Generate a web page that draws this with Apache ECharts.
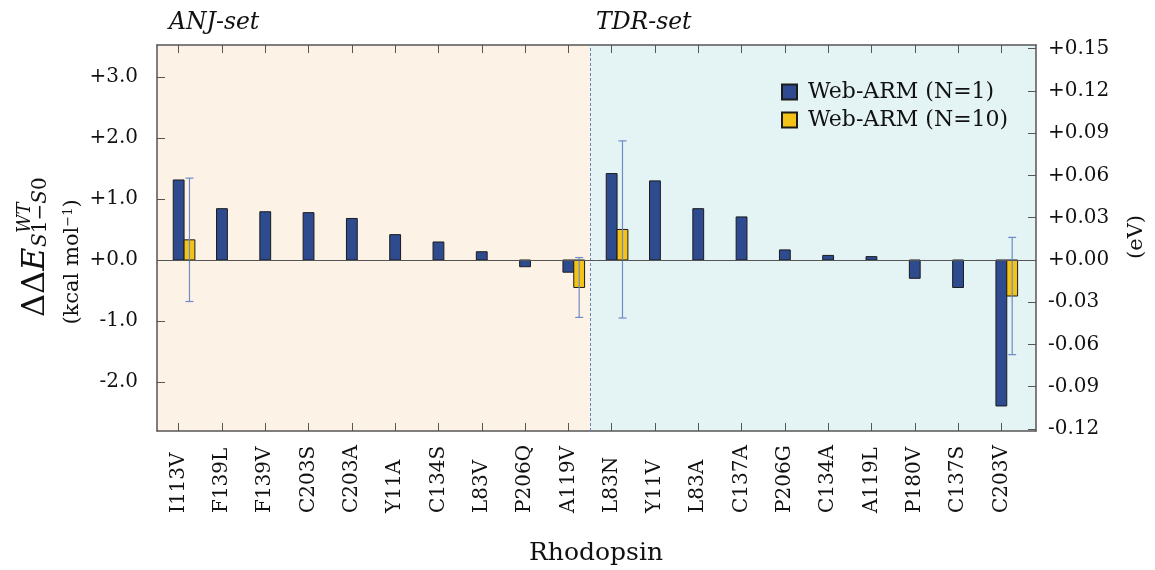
<!DOCTYPE html>
<html>
<head>
<meta charset="utf-8">
<script src="https://cdn.jsdelivr.net/npm/echarts@6/dist/echarts.min.js"></script>
<style>
  html, body { margin: 0; padding: 0; background: #ffffff; }
  #chart { width: 1155px; height: 570px; }
</style>
</head>
<body>
<div id="chart"></div>
<script>
// Rhodopsin mutants: S1-S0 excitation energy shift relative to wild type
const categories = ['I113V', 'F139L', 'F139V', 'C203S', 'C203A', 'Y11A', 'C134S', 'L83V', 'P206Q', 'A119V',
                    'L83N', 'Y11V', 'L83A', 'C137A', 'P206G', 'C134A', 'A119L', 'P180V', 'C137S', 'C203V'];
// Web-ARM (N=1), kcal/mol
const n1Values = [1.31, 0.84, 0.79, 0.775, 0.68, 0.415, 0.295, 0.135, -0.11, -0.20,
                  1.415, 1.295, 0.84, 0.705, 0.165, 0.075, 0.055, -0.30, -0.45, -2.39];
// Web-ARM (N=10), kcal/mol, with standard deviation
const n10Values = [0.33, null, null, null, null, null, null, null, null, -0.45,
                   0.50, null, null, null, null, null, null, null, null, -0.59];
const n10Errors = [1.01, null, null, null, null, null, null, null, null, 0.49,
                   1.45, null, null, null, null, null, null, null, null, 0.96];
const setNames = ['ANJ-set', 'TDR-set'];
const setSizes = [10, 10];
const kcalTicks = [-2, -1, 0, 1, 2, 3];
const evTicks = [-0.12, -0.09, -0.06, -0.03, 0, 0.03, 0.06, 0.09, 0.12, 0.15];
const KCAL_PER_EV = 23.0605;
const Y_MIN = -2.8, Y_MAX = 3.52;
const X_MIN = -0.5, X_MAX = 19.8;

const FONT = 'DejaVu Serif';
const BLUE = '#2f4b8f';
const YELLOW = '#f3c318';
const AXIS = '#555555';
const BAR_W = 0.25;

const chart = echarts.init(document.getElementById('chart'), null, { renderer: 'canvas' });

const tickIdx = categories.map((_, i) => i);
// set boundaries in category units
const setBounds = [];
let acc = 0;
setSizes.forEach((s, k) => {
  const from = k === 0 ? X_MIN : acc - 0.5;
  acc += s;
  const to = k === setSizes.length - 1 ? X_MAX : acc - 0.5;
  setBounds.push([from, to, k]);
});
const bandColors = ['#fdf2e6', '#e4f4f4'];

function signed(v, d) {
  const s = Math.abs(v) < 1e-9 ? (0).toFixed(d) : Math.abs(v).toFixed(d);
  return (v < -1e-9 ? '-' : '+') + s;
}

function barRenderer(offset, fill) {
  return function (params, api) {
    const x = api.value(0), v = api.value(1);
    const a = api.coord([x + offset - BAR_W / 2, v]);
    const b = api.coord([x + offset + BAR_W / 2, 0]);
    return {
      type: 'rect',
      shape: { x: a[0], y: Math.min(a[1], b[1]), width: b[0] - a[0], height: Math.abs(b[1] - a[1]) },
      style: { fill: fill, stroke: '#1b1b1b', lineWidth: 1 }
    };
  };
}

const xAxisCommon = {
  type: 'value', min: X_MIN, max: X_MAX,
  splitLine: { show: false },
  axisLine: { show: true, onZero: false, lineStyle: { color: AXIS, width: 1.5 } },
  axisTick: { show: true, inside: true, length: 8, customValues: tickIdx, lineStyle: { color: AXIS, width: 1 } }
};

const option = {
  backgroundColor: '#ffffff',
  animation: false,
  grid: { left: 157, right: 119, top: 45, bottom: 139, containLabel: false },
  legend: {
    orient: 'vertical', left: 781, top: 81, padding: 0,
    data: ['Web-ARM (N=1)', 'Web-ARM (N=10)'],
    itemWidth: 15, itemHeight: 15, itemGap: 6,
    icon: 'rect',
    textStyle: { fontFamily: FONT, fontSize: 22, color: '#111', padding: [0, 0, 0, 6] },
    selectedMode: false
  },
  xAxis: [
    Object.assign({}, xAxisCommon, {
      position: 'bottom',
      axisLabel: {
        customValues: tickIdx, rotate: 90, align: 'left', verticalAlign: 'middle', margin: 82,
        fontFamily: FONT, fontSize: 20, color: '#111',
        formatter: v => categories[Math.round(v)]
      }
    }),
    Object.assign({}, xAxisCommon, { position: 'top', axisLabel: { show: false } })
  ],
  yAxis: [
    {
      type: 'value', position: 'left', min: Y_MIN, max: Y_MAX,
      splitLine: { show: false },
      axisLine: { show: true, onZero: false, lineStyle: { color: AXIS, width: 1.5 } },
      axisTick: { show: true, inside: true, length: 8, customValues: kcalTicks, lineStyle: { color: AXIS } },
      axisLabel: { customValues: kcalTicks, margin: 19, fontFamily: FONT, fontSize: 20, color: '#111',
                   formatter: v => signed(v, 1) }
    },
    {
      type: 'value', position: 'right', min: Y_MIN / KCAL_PER_EV, max: Y_MAX / KCAL_PER_EV,
      splitLine: { show: false },
      axisLine: { show: true, onZero: false, lineStyle: { color: AXIS, width: 1.5 } },
      axisTick: { show: true, inside: true, length: 8, customValues: evTicks, lineStyle: { color: AXIS } },
      axisLabel: { customValues: evTicks, margin: 12, fontFamily: FONT, fontSize: 20, color: '#111',
                   formatter: v => signed(v, 2) }
    }
  ],
  series: [
    {
      // coloured backgrounds for the two mutant sets
      type: 'custom', name: 'sets', z: 0, silent: true,
      data: setBounds,
      renderItem: function (params, api) {
        const a = api.coord([api.value(0), Y_MAX]);
        const b = api.coord([api.value(1), Y_MIN]);
        return { type: 'rect', shape: { x: a[0], y: a[1], width: b[0] - a[0], height: b[1] - a[1] },
                 style: { fill: bandColors[api.value(2)] } };
      },
      markLine: {
        silent: true, symbol: 'none', label: { show: false },
        data: [
          { xAxis: setBounds[0][1], lineStyle: { color: '#6a80b4', type: [3, 2], width: 1 } },
          { yAxis: 0, lineStyle: { color: AXIS, type: 'solid', width: 1 } }
        ]
      }
    },
    {
      type: 'custom', name: 'Web-ARM (N=1)', z: 3,
      itemStyle: { color: BLUE, borderColor: '#1b1b1b', borderWidth: 1 },
      data: n1Values.map((v, i) => [i, v]),
      renderItem: barRenderer(0, BLUE)
    },
    {
      type: 'custom', name: 'Web-ARM (N=10)', z: 3,
      itemStyle: { color: YELLOW, borderColor: '#1b1b1b', borderWidth: 1 },
      data: n10Values.map((v, i) => v == null ? null : [i, v]).filter(Boolean),
      renderItem: barRenderer(BAR_W, YELLOW)
    },
    {
      type: 'custom', name: 'errors', z: 4, silent: true,
      data: n10Values.map((v, i) => v == null ? null : [i, v, n10Errors[i]]).filter(Boolean),
      renderItem: function (params, api) {
        const x = api.value(0) + BAR_W, v = api.value(1), e = api.value(2);
        const top = api.coord([x, v + e]);
        const bot = api.coord([x, v - e]);
        const cap = 4;
        const ls = { stroke: '#6f8ac6', lineWidth: 1.2 };
        return {
          type: 'group',
          children: [
            { type: 'line', shape: { x1: top[0], y1: top[1], x2: bot[0], y2: bot[1] }, style: ls },
            { type: 'line', shape: { x1: top[0] - cap, y1: top[1], x2: top[0] + cap, y2: top[1] }, style: ls },
            { type: 'line', shape: { x1: bot[0] - cap, y1: bot[1], x2: bot[0] + cap, y2: bot[1] }, style: ls }
          ]
        };
      }
    }
  ],
  graphic: [
    { type: 'text', left: 169, top: 11, style: { text: setNames[0], fontFamily: FONT, fontStyle: 'italic', fontSize: 23.5, fill: '#111' } },
    { type: 'text', left: 596, top: 11, style: { text: setNames[1], fontFamily: FONT, fontStyle: 'italic', fontSize: 23.5, fill: '#111' } },
    { type: 'text', x: 596, y: 553, style: { text: 'Rhodopsin', fontFamily: FONT, fontSize: 25, fill: '#111', align: 'center', verticalAlign: 'middle' } },
    { type: 'text', x: 1137, y: 237, rotation: Math.PI / 2,
      style: { text: '(eV)', fontFamily: FONT, fontSize: 21, fill: '#111', align: 'center', verticalAlign: 'middle' } },
    { type: 'text', x: 73, y: 262, rotation: Math.PI / 2,
      style: { text: '(kcal mol{s|−1})', fontFamily: FONT, fontSize: 21, fill: '#111', align: 'center', verticalAlign: 'middle',
               rich: { s: { fontFamily: FONT, fontSize: 13, verticalAlign: 'top', fill: '#111' } } } },
    {
      type: 'group', x: 45, y: 317, rotation: Math.PI / 2,
      children: [
        { type: 'text', x: 0, y: 7,
          style: { text: '{n|ΔΔ}{i|E}', verticalAlign: 'bottom', align: 'left', fill: '#111',
                   rich: { n: { fontFamily: FONT, fontSize: 32, fill: '#111' },
                           i: { fontFamily: FONT, fontSize: 32, fontStyle: 'italic', fill: '#111' } } } },
        { type: 'text', x: 84, y: -11,
          style: { text: 'WT', fontFamily: FONT, fontStyle: 'italic', fontSize: 18, fill: '#111', verticalAlign: 'bottom', align: 'left' } },
        { type: 'text', x: 70, y: 6,
          style: { text: '{i|S}{n|1−}{i|S}{n|0}', verticalAlign: 'bottom', align: 'left', fill: '#111',
                   rich: { n: { fontFamily: FONT, fontSize: 20, fill: '#111' },
                           i: { fontFamily: FONT, fontSize: 20, fontStyle: 'italic', fill: '#111' } } } }
      ]
    }
  ]
};

chart.setOption(option);
</script>
</body>
</html>
